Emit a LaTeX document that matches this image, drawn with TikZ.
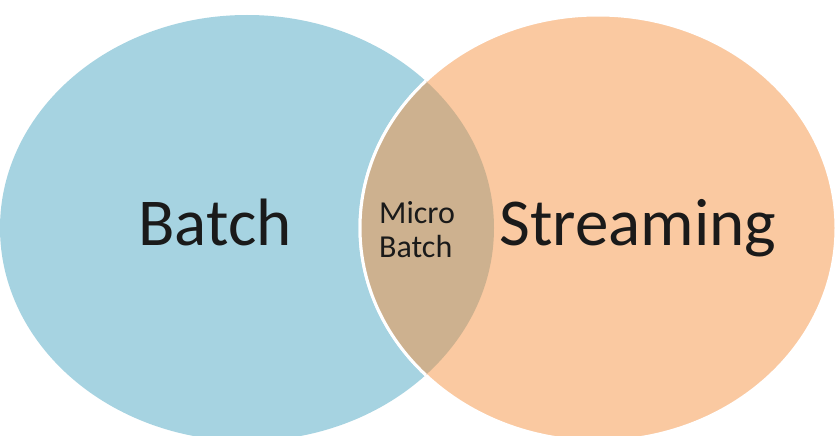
\documentclass[tikz,border=0pt]{standalone}
\usepackage{fontspec}
\setmainfont{Carlito}
\definecolor{batchblue}{HTML}{A6D3E1}
\definecolor{streamorange}{HTML}{FAC9A1}
\definecolor{microbrown}{HTML}{CDB18F}
\definecolor{labelink}{HTML}{1A1A1A}
\tikzset{
  biglabel/.style={font=\fontsize{67}{74}\selectfont, text=labelink, inner sep=0pt},
  smalllabel/.style={font=\fontsize{32}{34}\selectfont, text=labelink, inner sep=0pt, align=left}
}
\begin{document}
\begin{tikzpicture}[x=1pt,y=-1pt]
  \useasboundingbox (0,0) rectangle (836,436);
  \fill[white] (0,0) rectangle (836,436);
  % the two sets
  \fill[batchblue] (247,228) ellipse [x radius=247, y radius=213];
  \filldraw[fill=streamorange, draw=white, line width=3pt] (598,228) ellipse [x radius=238, y radius=213];
  % their intersection
  \begin{scope}
    \clip (247,228) ellipse [x radius=247, y radius=213];
    \filldraw[fill=microbrown, draw=white, line width=3pt] (598,228) ellipse [x radius=238, y radius=213];
  \end{scope}
  % labels
  \node[biglabel, anchor=base] (batch) at (215,245) {Batch};
  \node[biglabel, anchor=base] (streaming) at (638,245) {Streaming};
  \node[smalllabel, anchor=base west] (micro) at (379,257) {Micro\\Batch};
\end{tikzpicture}
\end{document}
